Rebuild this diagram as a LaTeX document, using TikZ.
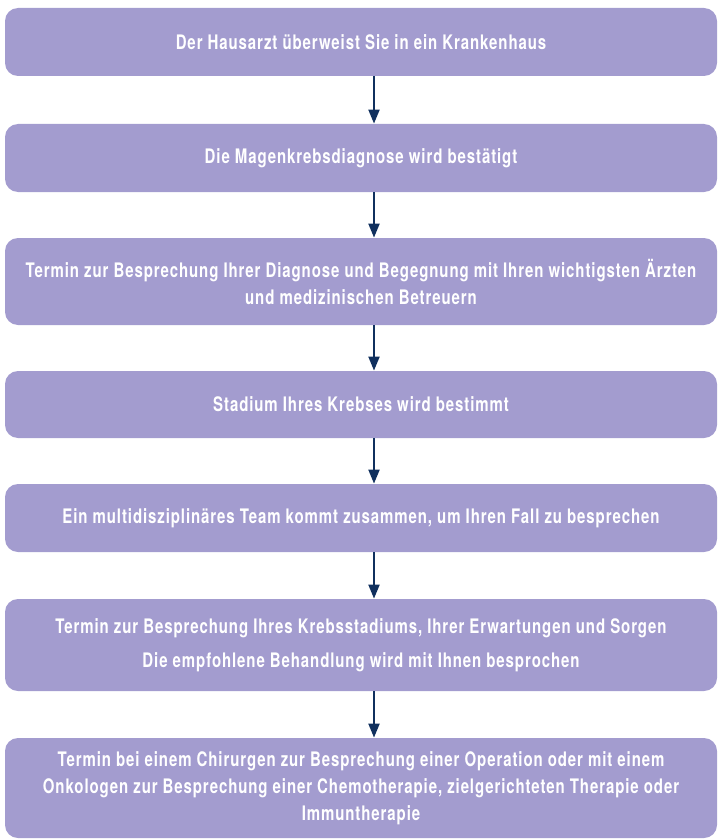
\documentclass[tikz,border=0pt]{standalone}
\usepackage{fontspec}
\setmainfont{TeX Gyre Heros}[FakeStretch=0.75,LetterSpace=4.5]
\usetikzlibrary{arrows.meta}
\definecolor{boxfill}{HTML}{A39CCF}
\definecolor{navy}{HTML}{10305E}
\begin{document}
\begin{tikzpicture}[x=0.5pt,y=-0.5pt,font=\bfseries\fontsize{10}{13.5}\selectfont,
  stage/.style={fill=boxfill,rounded corners=6.5pt,text=white,align=center,minimum width=356pt,inner sep=0pt},
  flow/.style={-{Triangle[length=7pt,width=5.5pt]},draw=navy,line width=1pt}]
\useasboundingbox (0,0) rectangle (717,840);
\node[stage,minimum height=34pt] (referral) at (361,42) {Der Hausarzt überweist Sie in ein Krankenhaus};
\node[stage,minimum height=34pt] (diagnosis) at (361,158) {Die Magenkrebsdiagnose wird bestätigt};
\node[stage,minimum height=43.5pt] (meeting) at (361,281.5) {Termin zur Besprechung Ihrer Diagnose und Begegnung mit Ihren wichtigsten Ärzten\\und medizinischen Betreuern};
\node[stage,minimum height=33.5pt] (staging) at (361,404.5) {Stadium Ihres Krebses wird bestimmt};
\node[stage,minimum height=34pt] (mdt) at (361,518) {Ein multidisziplinäres Team kommt zusammen, um Ihren Fall zu besprechen};
\node[stage,minimum height=46pt] (plan) at (361,645) {Termin zur Besprechung Ihres Krebsstadiums, Ihrer Erwartungen und Sorgen\\[3.5pt]Die empfohlene Behandlung wird mit Ihnen besprochen};
\node[stage,minimum height=50pt] (treatment) at (361,788) {Termin bei einem Chirurgen zur Besprechung einer Operation oder mit einem\\Onkologen zur Besprechung einer Chemotherapie, zielgerichteten Therapie oder\\Immuntherapie};
\draw[flow] ([xshift=6.5pt]referral.south) -- ([xshift=6.5pt]diagnosis.north);
\draw[flow] ([xshift=6.5pt]diagnosis.south) -- ([xshift=6.5pt]meeting.north);
\draw[flow] ([xshift=6.5pt]meeting.south) -- ([xshift=6.5pt]staging.north);
\draw[flow] ([xshift=6.5pt]staging.south) -- ([xshift=6.5pt]mdt.north);
\draw[flow] ([xshift=6.5pt]mdt.south) -- ([xshift=6.5pt]plan.north);
\draw[flow] ([xshift=6.5pt]plan.south) -- ([xshift=6.5pt]treatment.north);
\end{tikzpicture}
\end{document}
